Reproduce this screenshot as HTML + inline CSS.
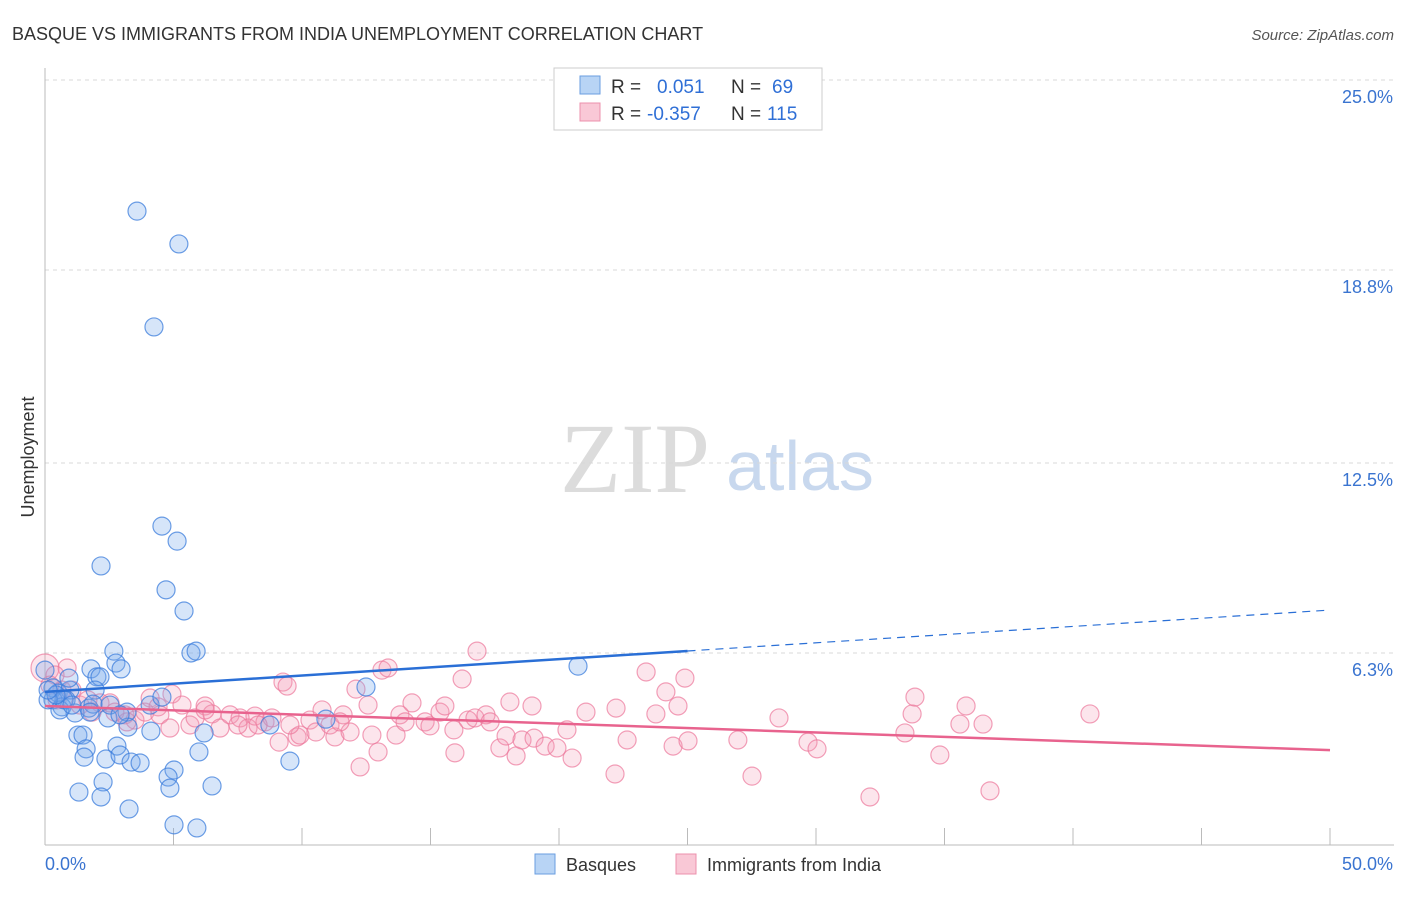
<!DOCTYPE html>
<html><head><meta charset="utf-8"><style>
body{margin:0;background:#fff;font-family:"Liberation Sans",sans-serif}
svg text{font-family:"Liberation Sans",sans-serif}
</style></head><body>
<svg id="c" width="1406" height="892">
<text x="12" y="40" font-size="18" fill="#333">BASQUE VS IMMIGRANTS FROM INDIA UNEMPLOYMENT CORRELATION CHART</text>
<text x="1394" y="40" font-size="15" fill="#555" text-anchor="end" font-style="italic">Source: ZipAtlas.com</text>
<text x="635" y="492" font-size="100" fill="#dcdcdc" text-anchor="middle" font-family="Liberation Serif" style="font-family:'Liberation Serif',serif">ZIP</text>
<text x="800" y="490" font-size="70" fill="#c8d8ee" text-anchor="middle">atlas</text>
<text x="34" y="457" font-size="18" fill="#333" text-anchor="middle" transform="rotate(-90 34 457)">Unemployment</text>
<g id="grid"></g><g id="marks"></g>
<g>
<rect x="554" y="68" width="268" height="62" fill="#fff" stroke="#ccc"/>
<rect x="580" y="76" width="20" height="18" fill="#b8d4f5" stroke="#6a9ee0"/>
<rect x="580" y="103" width="20" height="18" fill="#f9c8d6" stroke="#ec90ac"/>
<text x="611" y="93" font-size="19" fill="#333">R =</text><text x="657" y="93" font-size="19" fill="#2f6fd6">0.051</text>
<text x="731" y="93" font-size="19" fill="#333">N =</text><text x="772" y="93" font-size="19" fill="#2f6fd6">69</text>
<text x="611" y="120" font-size="19" fill="#333">R =</text><text x="647" y="120" font-size="19" fill="#2f6fd6">-0.357</text>
<text x="731" y="120" font-size="19" fill="#333">N =</text><text x="767" y="120" font-size="19" fill="#2f6fd6">115</text>
</g>
<g>
<rect x="535" y="854" width="20" height="20" fill="#b8d4f5" stroke="#6a9ee0"/>
<text x="566" y="871" font-size="18" fill="#333">Basques</text>
<rect x="676" y="854" width="20" height="20" fill="#f9c8d6" stroke="#ec90ac"/>
<text x="707" y="871" font-size="18" fill="#333">Immigrants from India</text>
</g>
</svg>
<script>
const yTicks=[25,18.8,12.5,6.3];
const yTickLabels=["25.0%","18.8%","12.5%","6.3%"];
const xTickLabels=["0.0%","50.0%"];
const basqueX=[3.58,5.21,4.24,4.55,5.14,2.18,4.71,5.41,5.68,5.88,2.68,2.76,2.96,1.79,2.02,2.14,1.95,0.31,0.51,0.97,0.82,0.31,0.66,1.17,0.58,1.71,1.87,2.45,3.19,4.09,4.55,3.23,4.12,1.28,1.48,1.60,2.80,1.52,2.37,2.92,3.35,3.70,5.02,4.79,5.99,6.19,9.53,2.26,1.32,2.18,4.86,6.50,3.27,5.02,5.91,20.74,12.49,8.75,10.93,0.74,0.12,0.43,1.05,1.75,2.53,2.92,0.12,0.0,0.93];
const basqueY=[20.72,19.65,16.94,10.44,9.95,9.14,8.36,7.67,6.30,6.36,6.36,5.97,5.78,5.78,5.52,5.52,5.09,5.16,4.99,5.09,4.77,4.77,4.54,4.34,4.44,4.50,4.63,4.18,4.37,4.60,4.86,3.88,3.75,3.62,3.62,3.17,3.26,2.90,2.84,2.97,2.74,2.71,2.48,2.25,3.07,3.69,2.77,2.09,1.76,1.60,1.89,1.96,1.21,0.69,0.59,5.87,5.19,3.95,4.14,4.77,4.77,4.93,4.60,4.37,4.60,4.28,5.09,5.74,5.48];
const indiaX=[0.0,0.86,0.39,0.66,0.19,1.05,0.47,1.36,2.14,2.53,3.11,3.50,3.89,4.09,4.40,4.94,5.33,4.47,4.86,5.64,5.84,6.23,6.50,6.81,7.20,7.59,7.90,8.17,8.56,8.83,9.26,9.42,9.11,9.81,9.92,10.31,10.54,10.78,11.09,11.28,11.60,11.87,12.10,12.26,12.57,12.72,12.96,13.11,13.35,13.66,13.81,14.01,14.28,14.79,14.98,15.37,15.56,15.95,16.23,16.46,16.73,16.81,17.16,17.32,17.70,17.94,18.09,18.33,18.56,18.95,19.03,19.46,19.92,20.31,20.51,21.05,22.18,22.22,22.65,23.39,23.77,24.16,24.44,24.63,24.90,25.02,26.96,27.51,28.56,29.69,30.04,32.10,33.46,33.74,33.85,34.82,35.60,35.84,36.50,36.77,40.66,1.67,1.83,2.72,3.19,6.23,7.51,8.29,9.53,11.48,15.91];
const indiaY=[5.81,5.81,5.58,5.09,5.25,5.09,4.77,4.60,4.67,4.67,4.28,4.11,4.37,4.83,4.54,4.96,4.60,4.28,3.85,3.95,4.18,4.57,4.31,3.85,4.28,4.18,3.85,4.24,4.05,4.18,5.35,5.22,3.39,3.56,3.62,4.11,3.72,4.44,3.95,3.56,4.28,3.72,5.12,2.58,4.60,3.62,3.07,5.74,5.81,3.62,4.28,4.05,4.67,4.05,3.92,4.37,4.57,3.04,5.45,4.11,4.18,6.36,4.28,4.05,3.20,3.59,4.70,2.94,3.46,4.57,3.52,3.26,3.20,3.79,2.87,4.37,2.35,4.50,3.46,5.68,4.31,5.03,3.26,4.57,5.48,3.43,3.46,2.28,4.18,3.39,3.17,1.60,3.69,4.31,4.86,2.97,3.98,4.57,3.98,1.80,4.31,4.77,4.37,4.37,4.05,4.44,3.95,3.95,3.95,4.05,3.79];
const basqueTrend=[5.03,7.70]; // y at x=0 and x=50
const indiaTrend=[4.57,3.13];
const basqueSolidEnd=25;
const NS="http://www.w3.org/2000/svg";
const X0=45,X1=1330,Y0=846,YTOP=80;
const xs=v=>X0+v/50*(X1-X0);
const ys=v=>Y0-v/25*(Y0-YTOP);
function mk(tag,attrs,parent){const e=document.createElementNS(NS,tag);for(const k in attrs)e.setAttribute(k,attrs[k]);parent.appendChild(e);return e;}
const grid=document.getElementById('grid'),marks=document.getElementById('marks');
yTicks.forEach((t,i)=>{
 const l=mk('line',{x1:X0,x2:1394,y1:ys(t),y2:ys(t),stroke:'#d8d8d8','stroke-dasharray':'4,4'},grid);
 
 
 const tx=mk('text',{x:1393,y:ys(t)+23,'font-size':18,fill:'#3a74d0','text-anchor':'end'},grid);
 tx.textContent=yTickLabels[i];
 
 
});
const ax=mk('line',{x1:X0,x2:X0,y1:68,y2:845,stroke:'#bbb'},grid);


const bx=mk('line',{x1:X0,x2:1394,y1:845,y2:845,stroke:'#bbb'},grid);


for(let k=1;k<=10;k++){const t=mk('line',{x1:xs(k*5),x2:xs(k*5),y1:828,y2:845,stroke:'#bbb'},grid);
 
 }
[[0,'start',45],[50,'end',1393]].forEach((d,i)=>{const t=mk('text',{x:d[2],y:870,'font-size':18,fill:'#3a74d0','text-anchor':d[1]},grid);t.textContent=xTickLabels[i];
 
 });
indiaX.forEach((x,i)=>{const c=mk('circle',{cx:xs(x),cy:ys(indiaY[i]),r:i===0?14:9,fill:'rgba(244,150,180,0.25)',stroke:'rgba(236,120,155,0.7)','stroke-width':1.2},marks);
 
 });
basqueX.forEach((x,i)=>{const c=mk('circle',{cx:xs(x),cy:ys(basqueY[i]),r:9,fill:'rgba(120,170,235,0.3)',stroke:'rgba(60,125,220,0.75)','stroke-width':1.2},marks);
 
 });
const bm=basqueTrend[0]+(basqueTrend[1]-basqueTrend[0])*basqueSolidEnd/50;
const l1=mk('line',{x1:xs(0),y1:ys(basqueTrend[0]),x2:xs(basqueSolidEnd),y2:ys(bm),stroke:'#2a6fd6','stroke-width':2.5},marks);


const l2=mk('line',{x1:xs(basqueSolidEnd),y1:ys(bm),x2:xs(50),y2:ys(basqueTrend[1]),stroke:'#2a6fd6','stroke-width':1.2,'stroke-dasharray':'8,6'},marks);


const l3=mk('line',{x1:xs(0),y1:ys(indiaTrend[0]),x2:xs(50),y2:ys(indiaTrend[1]),stroke:'#e8638e','stroke-width':2.5},marks);


</script>
</body></html>
